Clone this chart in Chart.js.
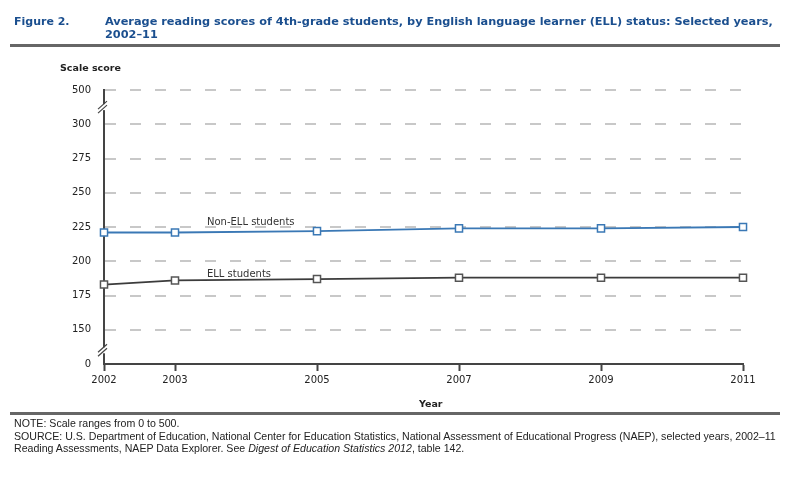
<!DOCTYPE html>
<html>
<head>
<meta charset="utf-8">
<script src="https://cdn.jsdelivr.net/npm/chart.js@4"></script>
<style>
  body { margin: 0; background: #fff; font-family: "DejaVu Sans", sans-serif; }
  #wrap { position: relative; width: 800px; height: 477px; overflow: hidden; }
  #chart { position: absolute; left: 0; top: 0; }
  .fig { position: absolute; left: 14px; top: 15px; color: #1b4f8f; font-weight: bold; font-size: 11px; line-height: 13px; }
  .title { position: absolute; left: 105px; top: 15px; width: 690px; color: #1b4f8f; font-weight: bold; font-size: 11.3px; line-height: 13px; }
  .rule { position: absolute; left: 10px; width: 770px; background: #666; }
  .note { position: absolute; left: 14px; top: 417px; font-family: "Liberation Sans", sans-serif; font-size: 10.6px; line-height: 12.5px; color: #222; white-space: nowrap; }
  .ylab { position: absolute; left: 60px; top: 62px; font-size: 9.5px; font-weight: bold; color: #222; }
  .xlab { position: absolute; left: 419px; top: 398px; font-size: 9.5px; font-weight: bold; color: #222; }
</style>
</head>
<body>
<div id="wrap">
  <canvas id="chart" width="800" height="477"></canvas>
  <div class="fig">Figure 2.</div>
  <div class="title">Average reading scores of 4th-grade students, by English language learner (ELL) status: Selected years,<br>2002–11</div>
  <div class="rule" style="top:44px;height:3px;"></div>
  <div class="ylab">Scale score</div>
  <div class="xlab">Year</div>
  <div class="rule" style="top:412px;height:3px;"></div>
  <div class="note">NOTE: Scale ranges from 0 to 500.<br>SOURCE: U.S. Department of Education, National Center for Education Statistics, National Assessment of Educational Progress (NAEP), selected years, 2002–11<br>Reading Assessments, NAEP Data Explorer. See <i>Digest of Education Statistics 2012</i>, table 142.</div>
</div>
<script>
var years = [2002, 2003, 2005, 2007, 2009, 2011];
var nonEll = [221, 221, 222, 224, 224, 225];
var ell = [183, 186, 187, 188, 188, 188];
// y axis is broken: 0 sits one step below 150, 500 one step above 300
var yTicks = [125, 150, 175, 200, 225, 250, 275, 300, 325];
var yTickText = {125: '0', 325: '500'};
var seriesLabels = [
  {text: 'Non-ELL students', x: 2003.45, y: 228.5},
  {text: 'ELL students', x: 2003.45, y: 190.5}
];

function pts(vals) {
  return vals.map(function(v, i) { return {x: years[i], y: v}; });
}

var extras = {
  id: 'extras',
  afterDraw: function(chart) {
    var ctx = chart.ctx;
    var xs = chart.scales.x, ys = chart.scales.y;
    ctx.save();
    ctx.fillStyle = '#333';
    ctx.font = '10px "DejaVu Sans"';
    ctx.textBaseline = 'middle';
    seriesLabels.forEach(function(l) {
      ctx.fillText(l.text, xs.getPixelForValue(l.x), ys.getPixelForValue(l.y));
    });
    // axis break marks
    [312.5, 135].forEach(function(v) {
      var x = xs.left, y = ys.getPixelForValue(v);
      ctx.fillStyle = '#fff';
      ctx.fillRect(x - 3, y - 3, 6, 6);
      ctx.strokeStyle = '#444';
      ctx.lineWidth = 1.2;
      [-2, 2].forEach(function(d) {
        ctx.beginPath();
        ctx.moveTo(x - 6, y + 4 + d);
        ctx.lineTo(x + 3, y - 4 + d);
        ctx.stroke();
      });
    });
    ctx.restore();
  }
};

new Chart(document.getElementById('chart'), {
  type: 'line',
  data: {
    datasets: [{
      label: 'Non-ELL students',
      data: pts(nonEll),
      borderColor: '#3a78b5',
      borderWidth: 1.8,
      pointStyle: 'rect',
      pointRadius: 5,
      pointBorderWidth: 1.5,
      pointBackgroundColor: '#fff',
      pointBorderColor: '#3a78b5',
      clip: false
    }, {
      label: 'ELL students',
      data: pts(ell),
      borderColor: '#3c3c3c',
      borderWidth: 1.8,
      pointStyle: 'rect',
      pointRadius: 5,
      pointBorderWidth: 1.5,
      pointBackgroundColor: '#fff',
      pointBorderColor: '#555',
      clip: false
    }]
  },
  options: {
    responsive: false,
    animation: false,
    layout: { padding: { left: 62, right: 57, top: 90, bottom: 83 } },
    plugins: { legend: { display: false }, tooltip: { enabled: false } },
    scales: {
      x: {
        type: 'linear',
        min: 2002,
        max: 2011,
        afterBuildTicks: function(s) { s.ticks = years.map(function(v) { return {value: v}; }); },
        afterFit: function(s) { s.height = 30; },
        grid: { display: true, drawOnChartArea: false, drawTicks: true, tickLength: 7, tickWidth: 2, tickColor: '#444' },
        border: { color: '#444', width: 2 },
        ticks: {
          color: '#222',
          font: { family: 'DejaVu Sans', size: 10 },
          padding: 3,
          maxRotation: 0,
          callback: function(v) { return String(v); }
        }
      },
      y: {
        min: 125,
        max: 325,
        afterBuildTicks: function(s) { s.ticks = yTicks.map(function(v) { return {value: v}; }); },
        afterFit: function(s) { s.width = 42; },
        grid: { color: '#c8c8c8', lineWidth: 2, drawTicks: false },
        border: { color: '#444', width: 2, dash: [11, 14] },
        ticks: {
          color: '#222',
          font: { family: 'DejaVu Sans', size: 10 },
          padding: 13,
          callback: function(v) { return yTickText[v] !== undefined ? yTickText[v] : String(v); }
        }
      }
    }
  },
  plugins: [extras]
});
</script>
</body>
</html>
